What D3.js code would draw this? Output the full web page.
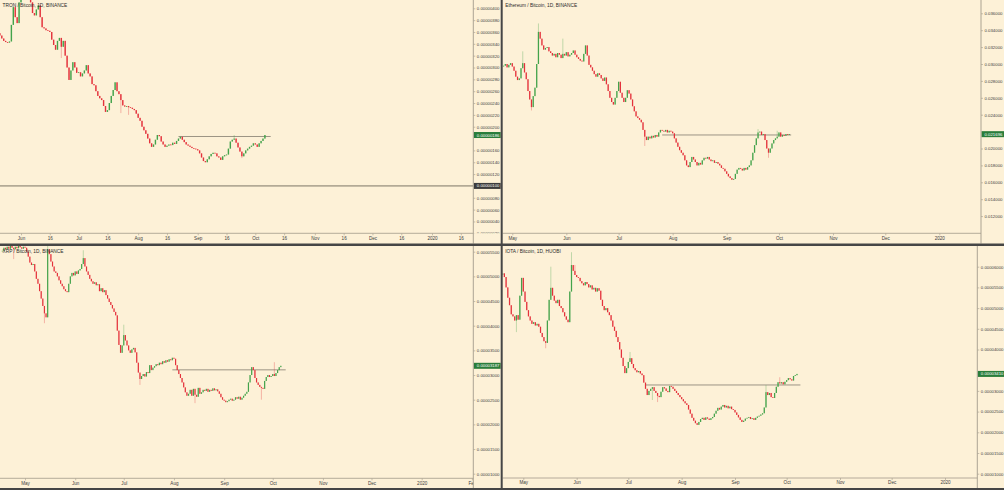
<!DOCTYPE html>
<html><head><meta charset="utf-8">
<script src="https://cdn.jsdelivr.net/npm/d3@7/dist/d3.min.js"></script>
<style>
html,body{margin:0;padding:0;background:#fdf1d7;overflow:hidden}
svg{display:block;font-family:"Liberation Sans",Arial,sans-serif}
</style></head><body>
<svg id="chart" width="1004" height="490"></svg>
<script>
// ---------------- DATA ----------------
const titles = ["TRON / Bitcoin, 1D, BINANCE", "Ethereum / Bitcoin, 1D, BINANCE", "XRP / Bitcoin, 1D, BINANCE", "IOTA / Bitcoin, 1D, HUOBI"];

// TRON / BTC daily closes (x 1e-6 BTC), first day 2019-05-20
const tronStart = "2019-05-20";
const tronClose = [3.58,3.54,3.49,3.45,3.43, 3.42,3.44, 3.72,4.02, 3.85,3.75, 4.10,4.22, 4.35,4.30,4.24,4.28,
 4.10,3.92,3.88,3.98,4.05, 3.85,3.68, 3.66,3.63,3.62,3.60, 3.47,3.38,3.30, 3.45,3.50,3.35,3.45, 3.20,3.00,2.79,
 2.95,3.09,3.00,2.91,2.92, 2.85,2.90,2.95,3.04, 2.90,2.85,2.72,2.70, 2.60,2.52,2.48, 2.45,2.35,2.25,2.28,
 2.40,2.52,2.62,2.75, 2.60,2.55,2.45, 2.36,2.34,2.35,2.33,2.32,2.30,2.28, 2.22,2.15,2.10, 2.00,1.94,
 1.88,1.80,1.72,1.66, 1.70,1.78,1.86,1.84, 1.75,1.70,1.66, 1.68,1.70,1.69,1.73,1.71, 1.76,1.80,1.83,
 1.78,1.74,1.70,1.68,1.66, 1.64,1.63,1.62,1.60, 1.55,1.48,1.42,1.40, 1.45,1.50,1.54,1.56,1.55,
 1.50,1.48,1.44, 1.50,1.52,1.53, 1.63,1.75,1.78, 1.80,1.73, 1.65,1.58,1.50, 1.55,1.60,1.63,1.66,
 1.68,1.72,1.70,1.66,1.72,1.76,1.80,1.86];
const tronWicks = [[33,null,3.16],[64,null,2.23],[68,null,2.20],[123,1.86,null],[127,null,1.47]];
const tronLevel = [1.835, "2019-08-22", "2019-10-09"];
const tronFloor = 1.00;
const tronYTicks = [0.20,0.40,0.60,0.80,1.00,1.20,1.40,1.60,1.80,2.00,2.20,2.40,2.60,2.80,3.00,3.20,3.40,3.60,3.80,4.00];
const tronXTicks = ["2019-06-01","2019-06-16","2019-07-01","2019-07-16","2019-08-01","2019-08-16","2019-09-01","2019-09-16",
 "2019-10-01","2019-10-16","2019-11-01","2019-11-16","2019-12-01","2019-12-16","2020-01-01","2020-01-16"];

// ETH / BTC daily closes (BTC), first day 2019-04-26
const ethStart = "2019-04-26";
const ethClose = [0.0298,0.0300,0.0296,0.0299,0.0301,0.0297, 0.0292,0.0285,0.0281,0.0283, 0.0295,0.0301, 0.0290,0.0282,
 0.0268,0.0258,0.0249, 0.0262,0.0272, 0.0300,0.0338, 0.0330,0.0322,0.0317,0.0319, 0.0320,0.0315,0.0313,
 0.0310,0.0312,0.0308,0.0313,0.0311,0.0307,0.0312,0.0310,0.0314,0.0309,0.0311,0.0313,0.0316,0.0311,0.0308,
 0.0306,0.0304,0.0303, 0.0312,0.0322, 0.0310,0.0299,0.0296, 0.0292,0.0288,0.0285,0.0289, 0.0287,0.0283,0.0280,0.0284,
 0.0276,0.0268,0.0260,0.0255,0.0252, 0.0260,0.0268,0.0279, 0.0266,0.0260,0.0255, 0.0260,0.0269,0.0265,
 0.0258,0.0250,0.0244,0.0238, 0.0236,0.0234,0.0231, 0.0222,0.0214,0.0210, 0.0214,0.0212,0.0215,0.0213,0.0216,0.0214,
 0.0219,0.0222,0.0221, 0.0220,0.0222,0.0219,0.0221,0.0220,0.0218,
 0.0212,0.0207,0.0202,0.0198,0.0195,0.0192,0.0186,0.0180,0.0178, 0.0184,0.0190,0.0187, 0.0184,0.0180,0.0183,0.0181,
 0.0186,0.0189,0.0188,0.0190,0.0187, 0.0185,0.0186,0.0183,0.0184,0.0182,
 0.0180,0.0177,0.0176,0.0173,0.0170,0.0167,0.0165,0.0163,0.0164, 0.0170,0.0175,0.0177,0.0176,
 0.0174,0.0177,0.0175,0.0178,0.0180, 0.0186,0.0195,0.0204,0.0212,0.0219, 0.0220,0.0216,0.0217,
 0.0210,0.0200,0.0195, 0.0200,0.0206,0.0210, 0.0212,0.0214, 0.0219,0.0214,0.0216, 0.0215,0.0217,0.0216,0.021696];
const ethWicks = [[11,0.0315,null],[16,null,0.0245],[20,0.0348,null],[34,0.0330,null],[81,null,0.0203],[146,0.0223,null],[152,null,0.0189],[157,0.0221,null]];
const ethLevel = [0.0216, "2019-07-26", "2019-10-08"];
const ethYTicks = [0.012,0.014,0.016,0.018,0.020,0.022,0.024,0.026,0.028,0.030,0.032,0.034,0.036];
const monthTicks = ["2019-05-01","2019-06-01","2019-07-01","2019-08-01","2019-09-01","2019-10-01","2019-11-01","2019-12-01","2020-01-01"];
const xrpXTicks = ["2019-05-01","2019-06-01","2019-07-01","2019-08-01","2019-09-01","2019-10-01","2019-11-01","2019-12-01","2020-01-01","2020-02-01"];

// XRP / BTC daily closes (x 1e-5 BTC), first day 2019-04-17
const xrpStart = "2019-04-17";
const xrpClose = [5.52,5.58,5.55,5.60,5.56,5.62,5.58,5.55, 5.60,5.57,5.62,5.59,5.56,5.60,5.58, 5.50,5.40,5.28,5.23,5.25,
 5.10,4.95,4.85,4.70,4.55,4.40,4.25,4.17, 5.55,5.45, 5.30,5.20,5.10,5.07, 5.00,4.92,4.85,4.80,4.74,4.70,4.68,
 4.85,5.00,5.07, 5.02,5.10,5.05,5.12,5.15,5.25,5.37, 5.20,5.10,5.03, 4.95,4.90,4.85,4.88,4.82,4.84,
 4.70,4.76,4.68,4.72, 4.62,4.55,4.48,4.42, 4.35,4.28,4.21, 3.90,3.61,3.45, 3.60,3.81,3.70, 3.60,3.50,3.45,
 3.52,3.55,3.46, 3.25,3.05,2.92, 2.98,3.02,2.97,3.06,3.04, 3.20,3.10,3.15,
 3.18,3.22,3.20,3.25,3.22,3.28,3.25,3.30,3.27,3.32,3.30, 3.35,3.33, 3.20,3.10,3.02,2.94, 2.85,2.75,2.65,2.58,
 2.62,2.70,2.58,2.72,2.60,2.56,2.74,2.62, 2.65,2.70,2.68,2.72,2.66,2.70,2.68,2.73,2.69,2.71,2.67,
 2.62,2.55,2.50,2.48,2.45,2.47, 2.50,2.52,2.48,2.50, 2.55,2.52,2.56,2.50,2.54,2.58,2.62,2.66,2.85,3.00,
 3.16,3.10, 2.94, 2.85,2.80,2.76, 2.74,2.72, 2.88,2.96,3.00, 2.96,2.98, 3.02,2.98,3.04, 3.10,3.16,3.187];
const xrpWicks = [[7,null,5.35],[26,null,4.05],[28,5.62,null],[50,5.53,null],[75,4.02,null],[85,null,2.80],[119,null,2.43],[160,null,2.50],[168,3.26,null]];
const xrpLevel = [3.105, "2019-07-31", "2019-10-09"];
const xrpYTicks = [1.0,1.5,2.0,2.5,3.0,3.5,4.0,4.5,5.0,5.5];

// IOTA / BTC daily closes (x 1e-5 BTC), first day 2019-04-18
const iotaStart = "2019-04-18";
const iotaClose = [5.80,5.84,5.75, 5.50,5.25,5.07,4.85, 4.80,4.70,4.83,4.72, 5.30,5.73, 5.40,5.15,4.95,4.80,4.70,
 4.62,4.66,4.58,4.62,4.55, 4.40,4.30,4.20,4.16, 4.70,5.20,5.49, 5.30,5.18,5.12, 5.20,5.05,5.00, 4.90,4.80,4.72,4.66,
 5.40,6.04, 5.90,5.80,5.75,5.73, 5.65,5.60,5.55,5.63,5.58,5.50,5.55, 5.45,5.49,5.40,5.48,5.42,
 5.20,5.05,4.95,5.00,4.90,4.83, 4.70,4.55,4.45,4.30,4.18, 4.00,3.80,3.60,3.43, 3.55,3.70,3.79,3.65,
 3.55,3.50,3.45,3.48,3.42,3.38, 3.20,3.05,2.90, 3.00,3.05,3.09, 3.00,2.95,2.88,2.85, 2.98,3.09, 3.06,3.00,2.97,3.12,
 3.10,3.05,3.00,2.95,2.90,2.85,2.80,2.75,2.70,2.66, 2.55,2.45,2.35,2.28,2.22,2.18,
 2.25,2.32,2.35,2.30,2.36,2.33,2.30,2.34,2.37, 2.45,2.52,2.59,2.55, 2.62,2.66,2.60,2.64,2.58,2.62,2.56,2.54,
 2.48,2.42,2.36,2.30,2.25,2.28,2.33, 2.35,2.37,2.32,2.34,2.30,2.35,2.38,2.40,2.43,2.46,
 2.60,2.97, 2.90,2.95,2.85,2.83, 2.95,3.10,3.21, 3.18,3.21,3.16, 3.22,3.26,3.31, 3.28,3.25,3.36, 3.38,3.41];
const iotaWicks = [[9,null,4.42],[26,null,4.03],[29,6.00,null],[41,6.35,null],[43,6.04,null],[66,4.50,null],[75,3.94,null],[88,null,2.78],[91,null,2.73],[154,3.14,null],[162,3.33,null]];
const iotaLevel = [3.143, "2019-07-11", "2019-10-09"];
const iotaYTicks = [1.0,1.5,2.0,2.5,3.0,3.5,4.0,4.5,5.0,5.5,6.0];

// ---------------- LAYOUT / STYLE ----------------
const BG = "#fdf1d7", UP = "#43a34b", DOWN = "#e4313b", AXIS = "#a29b8b", TXT = "#404040", DIV = "#464646";
const parse = d3.utcParse("%Y-%m-%d");

const panels = [
 {title: titles[0], start: tronStart, closes: tronClose, wicks: tronWicks, unit: 1e-6, fmt: ".8f",
  level: tronLevel, floor: tronFloor, yTicks: tronYTicks, xTicks: tronXTicks,
  L: 0, R: 473.3, T: 0, B: 233.3, S: 243.5, E: 500.7, xDom: ["2019-06-01","2020-01-01"], xRng: [21, 432], yDom: [0.2, 4.0], yRng: [233.3, 8.3]},
 {title: titles[1], start: ethStart, closes: ethClose, wicks: ethWicks, unit: 1, fmt: ".6f",
  level: ethLevel, floor: null, yTicks: ethYTicks, xTicks: monthTicks,
  L: 502.7, R: 981, T: 0, B: 233.3, S: 243.5, E: 1004, xDom: ["2019-05-01","2020-01-01"], xRng: [512.3, 939.3], yDom: [0.012, 0.036], yRng: [216.1, 13.3]},
 {title: titles[2], start: xrpStart, closes: xrpClose, wicks: xrpWicks, unit: 1e-5, fmt: ".8f",
  level: xrpLevel, floor: null, yTicks: xrpYTicks, xTicks: xrpXTicks,
  L: 0, R: 473.3, T: 246, B: 478.3, S: 488, E: 500.7, xDom: ["2019-05-01","2020-01-01"], xRng: [25, 421.7], yDom: [1.0, 5.5], yRng: [473.7, 251.7]},
 {title: titles[3], start: iotaStart, closes: iotaClose, wicks: iotaWicks, unit: 1e-5, fmt: ".8f",
  level: iotaLevel, floor: null, yTicks: iotaYTicks, xTicks: monthTicks,
  L: 502.7, R: 977.3, T: 246, B: 478, S: 488, E: 1004, xDom: ["2019-05-01","2020-01-01"], xRng: [523.3, 945], yDom: [1.0, 6.0], yRng: [473.7, 266.7]}
];

const svg = d3.select("#chart");
svg.append("rect").attr("width", 1004).attr("height", 490).attr("fill", BG);
const defs = svg.append("defs");

const xFmt = d => d.getUTCDate() !== 1 ? d3.utcFormat("%-d")(d) : (d.getUTCMonth() === 0 ? d3.utcFormat("%Y")(d) : d3.utcFormat("%b")(d));

panels.forEach((p, k) => {
  const u = p.unit;
  const x = d3.scaleUtc().domain(p.xDom.map(parse)).range(p.xRng);
  const y = d3.scaleLinear().domain(p.yDom.map(v => v * u)).range(p.yRng);
  const g = svg.append("g");

  const clip = (id, x0, y0, w, h) => { defs.append("clipPath").attr("id", id).append("rect").attr("x", x0).attr("y", y0).attr("width", w).attr("height", h); return `url(#${id})`; };
  const plotClip = clip("plot" + k, p.L, p.T, p.R - p.L, p.B - p.T);
  const yClip = clip("yax" + k, p.R, p.T, p.E - p.R, p.B - p.T);
  const xClip = clip("xax" + k, p.L, p.B, p.R - p.L, p.S - p.B);

  const plot = g.append("g").attr("clip-path", plotClip);

  // full-width horizontal level (TRON)
  if (p.floor !== null) {
    plot.append("line").attr("x1", p.L).attr("x2", p.R).attr("y1", y(p.floor * u)).attr("y2", y(p.floor * u))
      .attr("stroke", "#b3aa96").attr("stroke-width", 1.8);
  }
  // resistance line
  const [lv, lf, lt] = p.level;
  plot.append("line").attr("x1", x(parse(lf))).attr("x2", x(parse(lt))).attr("y1", y(lv * u)).attr("y2", y(lv * u))
    .attr("stroke", "#9c9484").attr("stroke-width", 1);

  // candles
  const wmap = new Map(p.wicks.map(w => [w[0], w]));
  const start = parse(p.start);
  const candles = p.closes.map((c, i) => {
    const o = i ? p.closes[i - 1] : c;
    const w = wmap.get(i);
    let hi = Math.max(o, c), lo = Math.min(o, c);
    if (w) { if (w[1] !== null) hi = Math.max(hi, w[1]); if (w[2] !== null) lo = Math.min(lo, w[2]); }
    return {date: d3.utcDay.offset(start, i), o: o * u, c: c * u, h: hi * u, l: lo * u};
  });
  const step = x(d3.utcDay.offset(start, 1)) - x(start);
  const bw = step * 0.72;
  const cg = plot.append("g");
  cg.selectAll("line").data(candles).join("line")
    .attr("x1", d => x(d.date)).attr("x2", d => x(d.date))
    .attr("y1", d => y(d.h)).attr("y2", d => y(d.l))
    .attr("stroke", d => d.c >= d.o ? UP : DOWN).attr("stroke-opacity", 0.55).attr("stroke-width", 0.6);
  cg.selectAll("rect").data(candles).join("rect")
    .attr("x", d => x(d.date) - bw / 2).attr("width", bw)
    .attr("y", d => Math.min(y(d.o), y(d.c)))
    .attr("height", d => Math.max(0.8, Math.abs(y(d.o) - y(d.c))))
    .attr("fill", d => d.c >= d.o ? UP : DOWN);

  // title
  g.append("text").attr("x", p.L + 2.5).attr("y", p.T + 7).attr("font-size", 4.8).attr("fill", "#2a2a2a").text(p.title);

  // price labels on the scale
  const last = candles[candles.length - 1].c;
  const marks = [[last, "#2a7d3b"]];
  if (p.floor !== null) marks.push([p.floor * u, "#3c3c3c"]);

  // y axis (ticks hidden behind a price label are not drawn)
  const yVals = p.yTicks.map(v => v * u).filter(v => marks.every(m => Math.abs(y(v) - y(m[0])) > 5));
  const yOuter = g.append("g").attr("clip-path", yClip);
  const yg = yOuter.append("g").attr("transform", `translate(${p.R},0)`)
    .call(d3.axisRight(y).tickValues(yVals).tickSize(2).tickPadding(1.5).tickFormat(d3.format(p.fmt)));
  yg.attr("font-size", null).attr("font-family", null);
  yg.select(".domain").remove();
  yg.selectAll("line").attr("stroke", AXIS).attr("stroke-width", 0.6);
  yg.selectAll("text").attr("font-size", 4.3).attr("fill", TXT);

  marks.forEach(([val, fill]) => {
    const yy = y(val);
    g.append("rect").attr("x", p.R + 0.5).attr("y", yy - 3).attr("width", p.E - p.R - 0.5).attr("height", 6).attr("fill", fill);
    g.append("text").attr("x", p.R + 3.5).attr("y", yy + 1.5).attr("font-size", 4.3).attr("fill", "#fff").text(d3.format(p.fmt)(val));
  });

  // x axis
  const xOuter = g.append("g").attr("clip-path", xClip);
  const xg = xOuter.append("g").attr("transform", `translate(0,${p.B})`)
    .call(d3.axisBottom(x).tickValues(p.xTicks.map(parse)).tickSize(2).tickPadding(1.2).tickFormat(xFmt));
  xg.attr("font-size", null).attr("font-family", null);
  xg.select(".domain").remove();
  xg.selectAll("line").attr("stroke", AXIS).attr("stroke-width", 0.6);
  xg.selectAll("text").attr("font-size", 4.6).attr("fill", TXT);

  // axis lines
  g.append("line").attr("x1", p.L).attr("x2", p.R).attr("y1", p.B).attr("y2", p.B).attr("stroke", AXIS).attr("stroke-width", 0.8);
  g.append("line").attr("x1", p.R).attr("x2", p.R).attr("y1", p.T).attr("y2", p.S).attr("stroke", AXIS).attr("stroke-width", 0.9);
});

// panel dividers
svg.append("rect").attr("x", 500.7).attr("y", 0).attr("width", 2).attr("height", 490).attr("fill", DIV);
svg.append("rect").attr("x", 0).attr("y", 243.5).attr("width", 1004).attr("height", 2.5).attr("fill", DIV);
svg.append("rect").attr("x", 0).attr("y", 488).attr("width", 1004).attr("height", 2).attr("fill", DIV);
</script>
</body></html>
